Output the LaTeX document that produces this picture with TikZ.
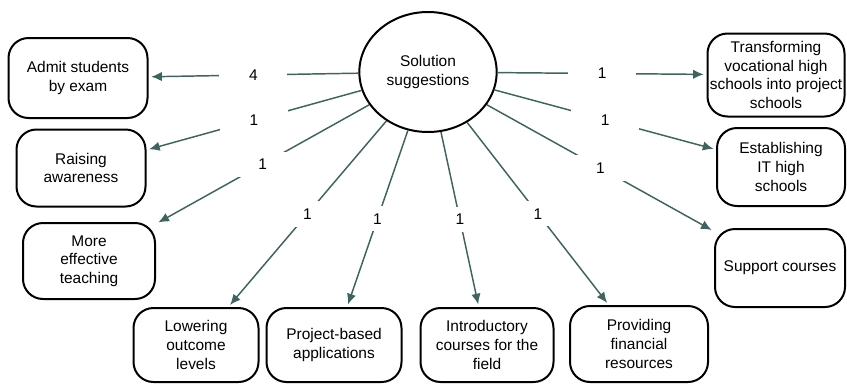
\documentclass[tikz,border=0pt]{standalone}
\usepackage{fontspec}
\setmainfont{Liberation Sans}
\usetikzlibrary{%
  arrows.meta,%
  shapes.geometric,% wg. ellipse
  positioning%
}
\definecolor{edgecol}{RGB}{62,100,96}

\begin{document}
\begin{tikzpicture}[
  x=0.75pt, y=-0.75pt,
  font=\fontsize{11.6}{14}\selectfont,
  >={Latex[length=8pt,width=7pt]},
  box/.style={draw, line width=1.5pt, rounded corners=15pt, align=center, inner sep=1pt},
  edge/.style={->, draw=edgecol, fill=edgecol, line width=1.1pt, shorten >=2pt},
  lbl/.style={fill=white, draw=none, inner sep=0pt, minimum width=51pt, minimum height=19pt},
]
\useasboundingbox (0,0) rectangle (847,383);

\node[ellipse, draw, line width=1.5pt, minimum width=103pt, minimum height=90pt, align=center] (sol) at (428,72) {Solution\\suggestions};

% left side
\node[box, minimum width=104.25pt, minimum height=60pt] (admit) at (78,78) {Admit students\\by exam};
\node[box, minimum width=96.75pt, minimum height=57.75pt] (raise) at (81,168) {Raising\\awareness};
\node[box, minimum width=99pt, minimum height=57pt] (teach) at (89,261) {More\\effective\\teaching};

% bottom row
\node[box, minimum width=93.75pt, minimum height=55.5pt] (lower) at (196,345) {Lowering\\outcome\\levels};
\node[box, minimum width=101.25pt, minimum height=55.5pt] (project) at (334,345) {Project-based\\applications};
\node[box, minimum width=99.75pt, minimum height=55.5pt] (intro) at (487,345) {Introductory\\courses for the\\field};
\node[box, minimum width=103.5pt, minimum height=57pt] (provide) at (639,344) {Providing\\financial\\resources};

% right side
\node[box, minimum width=102.75pt, minimum height=62.25pt] (transform) at (776,75) {Transforming\\vocational high\\schools into project\\schools};
\node[box, minimum width=96pt, minimum height=58.5pt] (establish) at (781,167) {Establishing\\IT high\\schools};
\node[box, minimum width=97.5pt, minimum height=58.5pt] (support) at (780,268) {Support courses};

\draw[edge] (sol) -- node[lbl] {4} (admit);
\draw[edge] (sol) -- node[lbl] {1} (raise);
\draw[edge] (sol) -- node[lbl] {1} (teach);
\draw[edge] (sol) -- node[lbl] {1} (lower);
\draw[edge] (sol) -- node[lbl] {1} (project);
\draw[edge] (sol) -- node[lbl] {1} (intro);
\draw[edge] (sol) -- node[lbl] {1} (provide);
\draw[edge] (sol) -- node[lbl] {1} (transform);
\draw[edge] (sol) -- node[lbl] {1} (establish);
\draw[edge] (sol) -- node[lbl] {1} (support);

\end{tikzpicture}
\end{document}
